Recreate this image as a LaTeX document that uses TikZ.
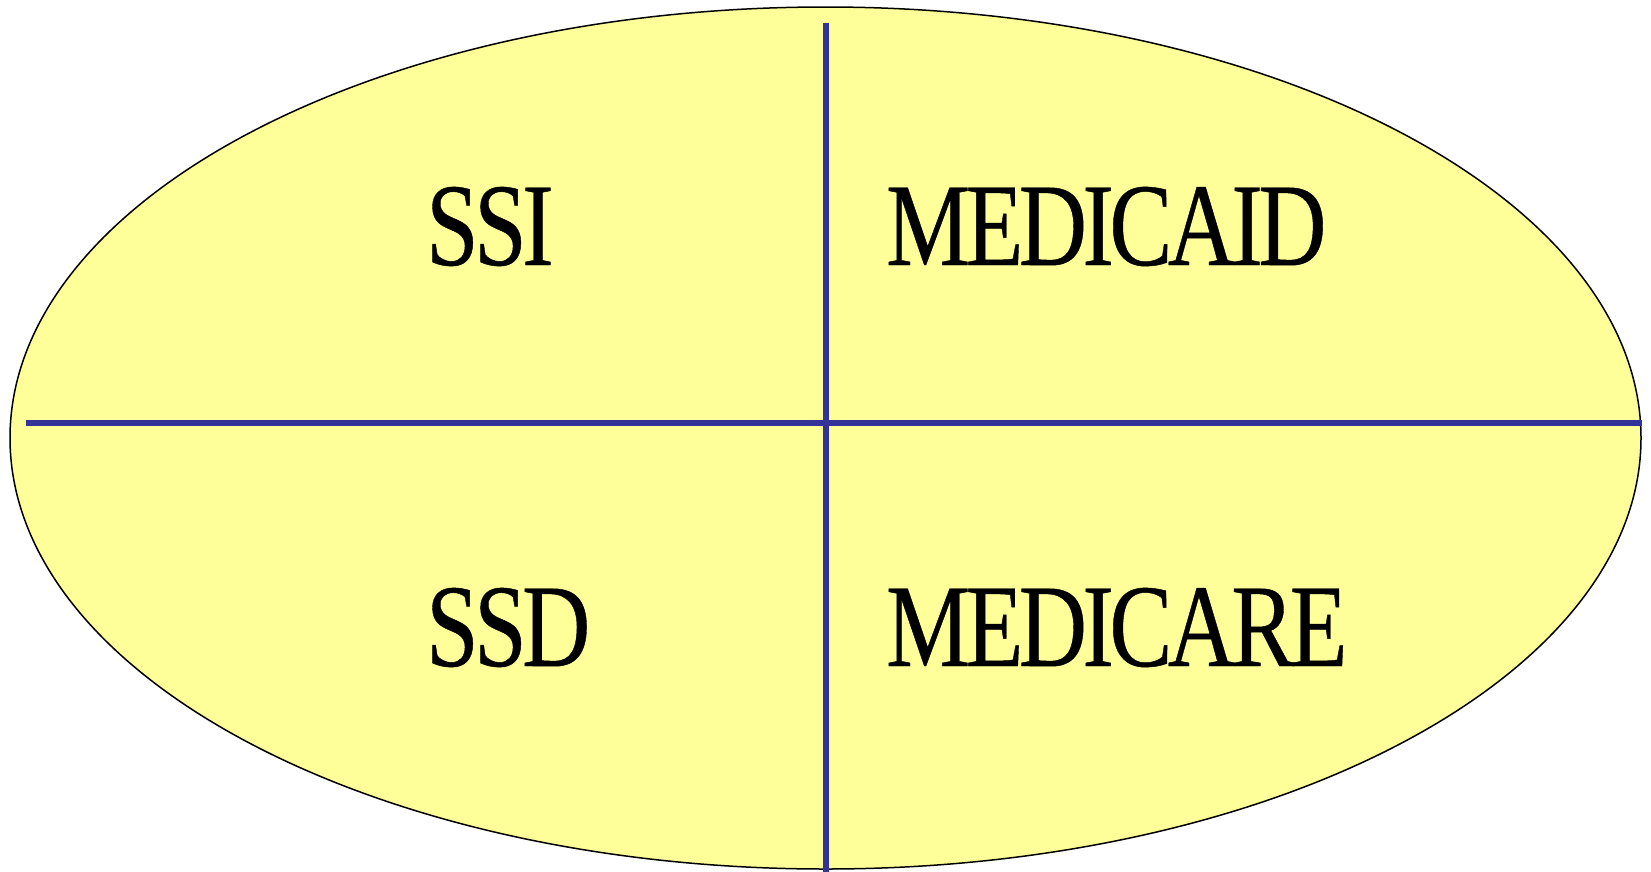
\documentclass[tikz,border=0pt]{standalone}
\usepackage{fontspec}
\setmainfont{Liberation Serif}
\newfontfamily\quadfont[LetterSpace=-4.8, FakeBold=0.4]{Liberation Serif}
\usepackage{graphicx}
\usetikzlibrary{shapes.geometric}
\definecolor{fillyellow}{HTML}{FFFF99}
\definecolor{divblue}{HTML}{333399}
\tikzset{
  quadtext/.style={anchor=base west, inner sep=0pt, font=\quadfont\fontsize{118}{130}\selectfont},
  divider/.style={draw=divblue, line cap=butt},
}
\newcommand{\cond}[1]{\scalebox{0.8}[1]{#1}}
\begin{document}
\begin{tikzpicture}[x=1pt,y=-1pt]
\useasboundingbox (0,0) rectangle (1651,871);
\node[draw=black, line width=1.5pt, fill=fillyellow, ellipse, minimum width=1631pt, minimum height=862pt, inner sep=0pt] (oval) at (825.5,438) {};
\coordinate (hl) at (26,423);
\coordinate (hr) at (1642,423);
\coordinate (vt) at (826,23);
\coordinate (vb) at (826,873);
\draw[divider, line width=6.5pt] (hl) -- (hr);
\draw[divider, line width=5.5pt] (vt) -- (vb);
\node[quadtext] (ssi) at (426,265) {\cond{SSI}};
\node[quadtext] (medicaid) at (886,265) {\cond{MEDICAID}};
\node[quadtext] (ssd) at (426,666) {\cond{SSD}};
\node[quadtext] (medicare) at (886,666) {\cond{MEDICARE}};
\end{tikzpicture}
\end{document}
